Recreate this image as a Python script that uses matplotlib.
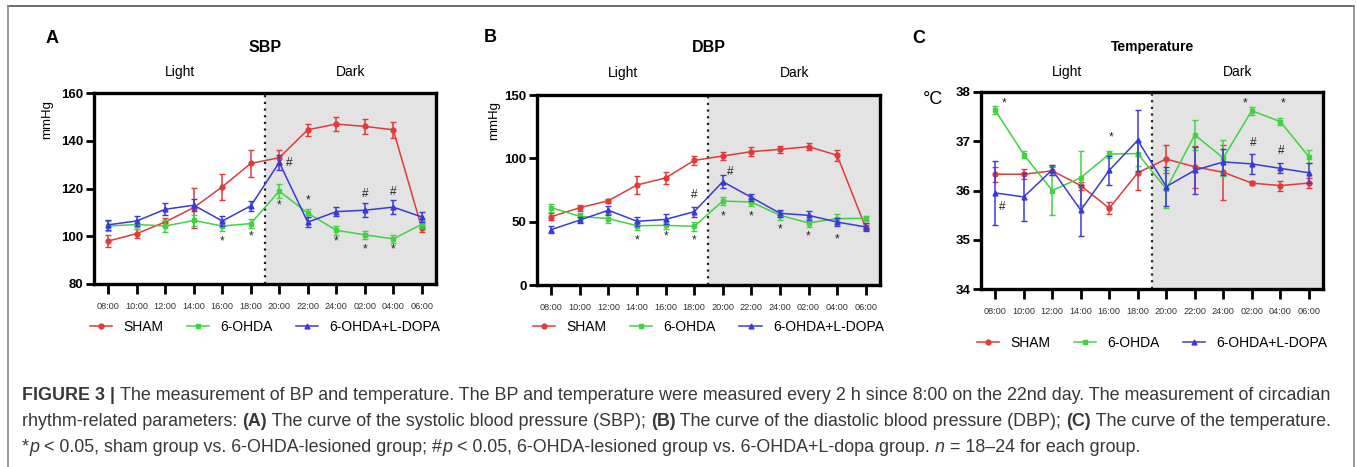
import numpy as np
import matplotlib.pyplot as plt
from matplotlib.lines import Line2D
import matplotlib.transforms as mtransforms

plt.rcParams['font.family'] = ['Liberation Sans', 'DejaVu Sans']

times = ['08:00', '10:00', '12:00', '14:00', '16:00', '18:00',
         '20:00', '22:00', '24:00', '02:00', '04:00', '06:00']
groups = ['SHAM', '6-OHDA', '6-OHDA+L-DOPA']

# SBP (mmHg)
sbp_sham = [98, 101.1, 106, 112, 120.7, 130.5, 132.9, 144.6, 147, 146, 144.6, 103.4]
sbp_sham_err = [2.5, 2, 1.5, 8.4, 5.4, 5.6, 3.2, 2.5, 3, 3, 3.3, 1.5]
sbp_ohda = [104.3, 104.9, 104.3, 106.6, 104.3, 105.3, 118.9, 109.7, 102.5, 100.6, 98.9, 105]
sbp_ohda_err = [2, 2, 2.5, 2.5, 2, 2, 3, 1.8, 2, 1.8, 1.8, 1.5]
sbp_ldopa = [104.8, 106.4, 111.3, 113, 106.4, 112.7, 130.9, 105.9, 110.3, 110.9, 112.2, 108.1]
sbp_ldopa_err = [2, 2, 2.5, 2.5, 2, 2, 3, 2, 2, 3, 3, 2]

# DBP (mmHg)
dbp_sham = [54, 61, 66.6, 79, 84.5, 98.4, 101.8, 105.3, 107.1, 109.2, 102.4, 45.3]
dbp_sham_err = [3, 2.5, 1.5, 7.2, 4.5, 3.5, 3, 3.5, 2.5, 3, 4.5, 2]
dbp_ohda = [61, 54.2, 52.4, 46.8, 47.1, 46.3, 66.3, 65.5, 55, 49, 52.4, 52.6]
dbp_ohda_err = [3, 3, 3.5, 3, 3, 3.5, 3.5, 3, 3.5, 3, 3.5, 2]
dbp_ldopa = [43.7, 51.3, 59, 50.3, 51.8, 57.9, 81.6, 69.2, 56.6, 55, 49.7, 45.8]
dbp_ldopa_err = [3, 2.5, 3.5, 3.5, 4, 4, 5, 3, 3, 3.5, 3.5, 3]

# Temperature (°C)
tmp_sham = [36.33, 36.33, 36.40, 36.10, 35.64, 36.36, 36.64, 36.48, 36.37, 36.15, 36.10, 36.15]
tmp_sham_err = [0.15, 0.1, 0.08, 0.08, 0.12, 0.35, 0.28, 0.42, 0.56, 0.04, 0.1, 0.1]
tmp_ohda = [37.63, 36.73, 36.0, 36.26, 36.74, 36.75, 36.03, 37.13, 36.66, 37.62, 37.4, 36.69]
tmp_ohda_err = [0.08, 0.07, 0.5, 0.55, 0.07, 0.25, 0.38, 0.3, 0.37, 0.08, 0.08, 0.13]
tmp_ldopa = [35.95, 35.87, 36.42, 35.6, 36.41, 37.02, 36.08, 36.41, 36.58, 36.54, 36.45, 36.36]
tmp_ldopa_err = [0.65, 0.48, 0.1, 0.52, 0.3, 0.62, 0.4, 0.48, 0.27, 0.2, 0.1, 0.2]

# significance marks: (time index, x shift, y, symbol)
sbp_marks = [(4, 0, 98, '*'), (5, 0, 100, '*'), (6, 0, 113, '*'), (7, 0, 115, '*'),
             (8, 0, 98, '*'), (9, 0, 94.5, '*'), (10, 0, 94.5, '*'),
             (6, 0.35, 130.6, '#'), (9, 0, 117.5, '#'), (10, 0, 118.5, '#')]
dbp_marks = [(3, 0, 35.5, '*'), (4, 0, 38, '*'), (5, 0, 35.5, '*'), (6, 0, 54.5, '*'),
             (7, 0, 54.5, '*'), (8, 0, 44, '*'), (9, 0, 38, '*'), (10, 0, 36, '*'),
             (5, 0, 71, '#'), (6, 0.25, 89.5, '#')]
tmp_marks = [(0, 0.3, 37.76, '*'), (4, 0.05, 37.07, '*'), (9, -0.25, 37.76, '*'),
             (10, 0.1, 37.76, '*'), (0, 0.25, 35.67, '#'), (9, 0.05, 36.96, '#'),
             (10, 0.05, 36.8, '#')]

colors = ['#e03a3a', '#3fd43f', '#3a3ad8']
markers = ['o', 's', '^']

W, H = 1357, 467
fig = plt.figure(figsize=(W / 100, H / 100), dpi=100)


def px_axes(x0, y0, x1, y1):
    return fig.add_axes([x0 / W, (H - y1) / H, (x1 - x0) / W, (y1 - y0) / H])


def panel(ax, series, errs, ylim, yticks, marks, letter, title, title_size,
          ylabel, legend_y, pos):
    x = np.arange(len(times))
    ax.axvspan(5.5, 11.6, color='#e3e3e3', zorder=0, lw=0)
    ax.axvline(5.5, color='#222222', ls=(0, (1, 2)), lw=1.6, zorder=1)
    for i in range(3):
        ax.errorbar(x, series[i], yerr=errs[i], color=colors[i], marker=markers[i],
                    ms=3.5, lw=1.1, elinewidth=1.1, capsize=2.5, capthick=1.0,
                    ecolor=colors[i], zorder=3 + i, label=groups[i])
    for idx, dx, yv, sym in marks:
        ax.text(idx + dx, yv, sym, ha='center', va='center', fontsize=8.5,
                color='#222222', zorder=10)
    ax.set_xlim(-0.5, 11.5)
    ax.set_ylim(*ylim)
    ax.set_yticks(yticks)
    ax.set_xticks(x)
    ax.set_xticklabels(times, fontsize=6.6, color='#333333')
    for lab in ax.get_yticklabels():
        lab.set_fontweight('bold')
        lab.set_fontsize(9.5)
    for s in ax.spines.values():
        s.set_linewidth(2.4)
    ax.tick_params(axis='x', direction='out', length=7, width=2, pad=6)
    ax.tick_params(axis='y', direction='out', length=6, width=2, pad=1.5)
    trans = mtransforms.blended_transform_factory(ax.transData, ax.transAxes)
    ax.text(2.5, pos[2], 'Light', transform=trans, ha='center', va='center',
            fontsize=10)
    ax.text(8.5, pos[2], 'Dark', transform=trans, ha='center', va='center',
            fontsize=10)
    ax.text(0.5, pos[3], title, transform=ax.transAxes, ha='center',
            va='center', fontsize=title_size, fontweight='bold')
    ax.text(pos[4], pos[5], letter, transform=ax.transAxes,
            ha='center', va='center', fontsize=13, fontweight='bold')
    if ylabel == 'mmHg':
        ax.text(pos[0], pos[1], ylabel, transform=ax.transAxes,
                rotation=90, ha='center', va='center', fontsize=9.5)
    else:
        ax.text(pos[0], pos[1], ylabel, transform=ax.transAxes,
                ha='center', va='center', fontsize=13)
    handles = [Line2D([], [], color=colors[i], marker=markers[i], ms=3.5, lw=1.1)
               for i in range(3)]
    ax.legend(handles, groups, loc='center', bbox_to_anchor=(0.5, legend_y), ncol=3,
              frameon=False, fontsize=10, handlelength=1.6, handletextpad=0.8,
              columnspacing=1.7)


axA = px_axes(94, 93, 436, 284)
panel(axA, [sbp_sham, sbp_ohda, sbp_ldopa], [sbp_sham_err, sbp_ohda_err, sbp_ldopa_err],
      (80, 160), [80, 100, 120, 140, 160], sbp_marks, 'A', 'SBP', 11.5, 'mmHg', -0.225,
      (-0.137, 0.86, 1.11, 1.24, -0.123, 1.287))

axB = px_axes(537, 95, 880, 285)
panel(axB, [dbp_sham, dbp_ohda, dbp_ldopa], [dbp_sham_err, dbp_ohda_err, dbp_ldopa_err],
      (0, 150), [0, 50, 100, 150], dbp_marks, 'B', 'DBP', 11.5, 'mmHg', -0.22,
      (-0.125, 0.868, 1.115, 1.25, -0.137, 1.30))

axC = px_axes(981, 92, 1323, 289)
panel(axC, [tmp_sham, tmp_ohda, tmp_ldopa], [tmp_sham_err, tmp_ohda_err, tmp_ldopa_err],
      (34, 38), [34, 35, 36, 37, 38], tmp_marks, 'C', 'Temperature', 10, '°C', -0.275,
      (-0.14, 0.96, 1.10, 1.23, -0.181, 1.274))

# figure frame
fig.add_artist(Line2D([8 / W, 1354 / W], [1 - 6 / H, 1 - 6 / H], color='#555555', lw=1.2))
fig.add_artist(Line2D([8 / W, 8 / W], [0, 1 - 6 / H], color='#888888', lw=1.2))
fig.add_artist(Line2D([1354 / W, 1354 / W], [0, 1 - 6 / H], color='#888888', lw=1.2))

# caption with mixed styles
renderer = fig.canvas.get_renderer()
cap_lines = [
    [('FIGURE 3 | ', 'bold', 'normal'),
     ('The measurement of BP and temperature. The BP and temperature were measured every 2 h since 8:00 on the 22nd day. The measurement of circadian', 'normal', 'normal')],
    [('rhythm-related parameters: ', 'normal', 'normal'), ('(A)', 'bold', 'normal'),
     (' The curve of the systolic blood pressure (SBP); ', 'normal', 'normal'),
     ('(B)', 'bold', 'normal'),
     (' The curve of the diastolic blood pressure (DBP); ', 'normal', 'normal'),
     ('(C)', 'bold', 'normal'), (' The curve of the temperature.', 'normal', 'normal')],
    [('*', 'normal', 'normal'), ('p', 'normal', 'italic'),
     (' < 0.05, sham group vs. 6-OHDA-lesioned group; #', 'normal', 'normal'),
     ('p', 'normal', 'italic'),
     (' < 0.05, 6-OHDA-lesioned group vs. 6-OHDA+L-dopa group. ', 'normal', 'normal'),
     ('n', 'normal', 'italic'), (' = 18–24 for each group.', 'normal', 'normal')],
]
cap_y = [395, 421, 447]
for line, yy in zip(cap_lines, cap_y):
    xx = 22
    for txt, wt, st in line:
        t = fig.text(xx / W, 1 - yy / H, txt, fontsize=12.9, fontweight=wt, fontstyle=st,
                     color='#383838', va='center', ha='left')
        bb = t.get_window_extent(renderer=renderer)
        xx += bb.width

fig.savefig('out.png', dpi=100)
